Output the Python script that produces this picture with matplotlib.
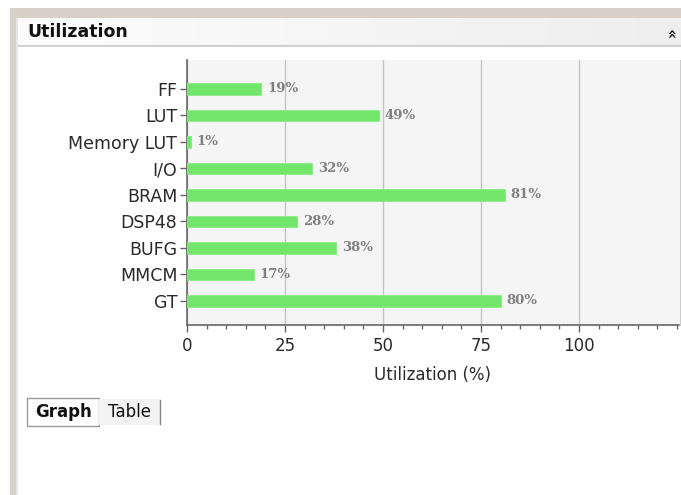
import numpy as np
import matplotlib
matplotlib.use('Agg')
import matplotlib.pyplot as plt
from matplotlib.patches import Rectangle
from matplotlib.ticker import MultipleLocator

# 资源利用率数据
resources = ['FF', 'LUT', 'Memory LUT', 'I/O', 'BRAM', 'DSP48', 'BUFG', 'MMCM', 'GT']
utilization = [19, 49, 1, 32, 81, 28, 38, 17, 80]
xticks = [0, 25, 50, 75, 100]

W, H = 681, 495
fig = plt.figure(figsize=(W / 100, H / 100), dpi=100)
fig.patch.set_facecolor('white')

def px(x, y, w, h):
    # 像素坐标 -> figure坐标 (y从上往下)
    return (x / W, 1 - (y + h) / H, w / W, h / H)

# 外框: 顶部和左侧的灰条
for (x, y, w, h, c) in [(10, 8, 671, 10, '#d6d2ca'), (10, 8, 8, 487, '#d6d2ca'),
                        (16, 18, 2, 477, '#e8e6e0')]:
    x0, y0, w0, h0 = px(x, y, w, h)
    fig.patches.append(Rectangle((x0, y0), w0, h0, transform=fig.transFigure,
                                 facecolor=c, edgecolor='none', zorder=0))

# 标题栏渐变
hx, hy, hw, hh = px(18, 18, 663, 29)
grad = np.linspace(0, 1, 256).reshape(1, -1)
ax_h = fig.add_axes([hx, hy, hw, hh])
ax_h.imshow(grad, aspect='auto', cmap=matplotlib.colors.LinearSegmentedColormap.from_list(
    'hdr', ['#fdfdfd', '#eeeeee']), extent=[0, 1, 0, 1])
ax_h.axhline(0.02, color='#d0d0d0', lw=1.5)
ax_h.set_axis_off()
fig.text(27 / W, 1 - 32 / H, 'Utilization', fontsize=12.5, fontweight='bold',
         va='center', ha='left', color='#111111')
fig.text(672 / W, 1 - 32 / H, '»', fontsize=11, rotation=90, va='center',
         ha='center', color='#222222', fontweight='bold')

# 右侧边框线
fig.add_artist(plt.Line2D([679.5 / W, 679.5 / W], [1 - 60 / H, 1 - 325 / H],
                          transform=fig.transFigure, color='#cccccc', lw=1))

# 主图
ax = fig.add_axes([187 / W, 1 - 325 / H, (679 - 187) / W, (325 - 60) / H])
ax.set_facecolor('#f5f5f5')
y = np.arange(len(resources))
ax.barh(y, utilization, height=0.45, color='#72e66a', edgecolor='#8cec86', lw=0.6, zorder=3)
for yi, v in zip(y, utilization):
    ax.text(v + 1.5, yi, '%d%%' % v, va='center', ha='left', fontsize=9.5,
            fontweight='bold', color='#808080', zorder=4, family='DejaVu Serif')

ax.set_xlim(0, 125.5)
ax.set_ylim(len(resources) - 0.094, -1.094)
ax.set_yticks(y)
ax.set_yticklabels(resources, fontsize=12.5)
ax.set_xticks(xticks)
ax.xaxis.set_minor_locator(MultipleLocator(5))
ax.grid(axis='x', color='#c4c4c4', lw=1, zorder=1)
for s in ['top', 'right']:
    ax.spines[s].set_visible(False)
for s in ['left', 'bottom']:
    ax.spines[s].set_color('#666666')
    ax.spines[s].set_linewidth(1.2)
ax.tick_params(axis='both', which='major', labelsize=12, colors='#666666',
               labelcolor='#2a2a2a', length=5, width=1)
ax.tick_params(axis='y', labelsize=12.5, pad=2)
ax.tick_params(axis='x', which='minor', length=3, colors='#666666', width=1)
ax.set_xlabel('Utilization (%)', fontsize=12, color='#2a2a2a', labelpad=8)

# 底部的 Graph / Table 标签
gx, gy, gw, gh = px(27, 398, 72, 28)
fig.patches.append(Rectangle((gx, gy), gw, gh, transform=fig.transFigure,
                             facecolor='white', edgecolor='#999999', lw=1))
tx, ty, tw, th = px(99, 399, 61, 26)
fig.patches.append(Rectangle((tx, ty), tw, th, transform=fig.transFigure,
                             facecolor='#f3f3f3', edgecolor='none'))
fig.add_artist(plt.Line2D([160 / W, 160 / W], [1 - 400 / H, 1 - 424 / H],
                          transform=fig.transFigure, color='#888888', lw=1))
fig.text(63 / W, 1 - 412 / H, 'Graph', fontsize=12, fontweight='bold',
         ha='center', va='center', color='#111111')
fig.text(130 / W, 1 - 412 / H, 'Table', fontsize=12, ha='center', va='center',
         color='#111111')

fig.savefig('out.png', dpi=100)
